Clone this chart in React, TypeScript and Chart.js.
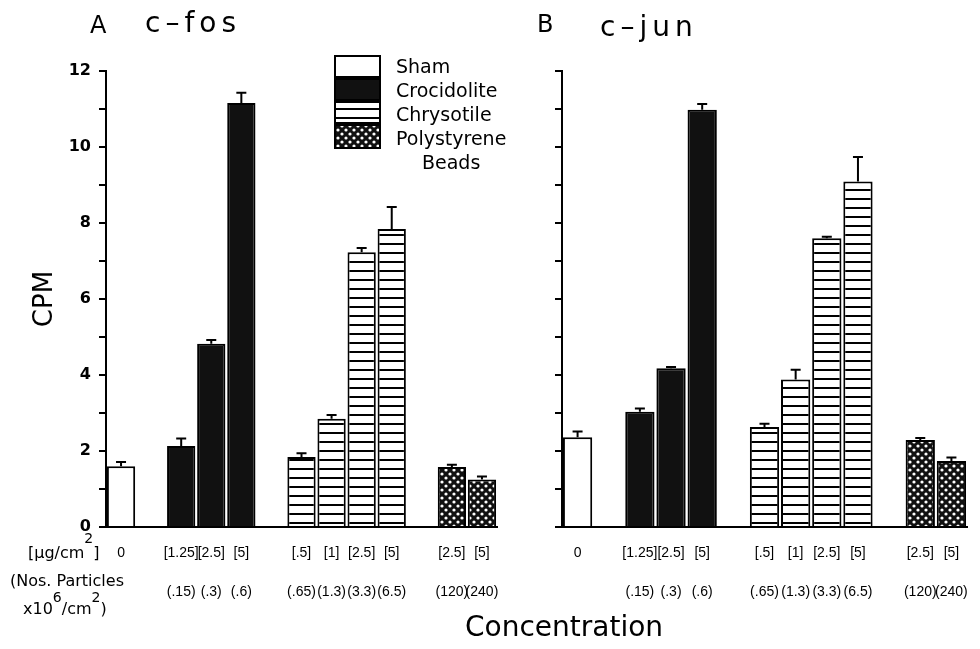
import React, { useEffect, useRef } from "react";
import { Chart, registerables } from "chart.js";

Chart.register(...registerables);

// ---------- data ----------
const materials = ["Sham", "Crocidolite", "Chrysotile", "Polystyrene Beads"];
const slotMaterial = [
  "Sham", "",
  "Crocidolite", "Crocidolite", "Crocidolite", "",
  "Chrysotile", "Chrysotile", "Chrysotile", "Chrysotile", "",
  "Polystyrene Beads", "Polystyrene Beads",
];
const doseLabels = ["0", "", "[1.25]", "[2.5]", "[5]", "", "[.5]", "[1]", "[2.5]", "[5]", "", "[2.5]", "[5]"];
const particleLabels = ["", "", "(.15)", "(.3)", "(.6)", "", "(.65)", "(1.3)", "(3.3)", "(6.5)", "", "(120)", "(240)"];

const cfosCPM = [1.6, null, 2.13, 4.82, 11.16, null, 1.84, 2.85, 7.23, 7.84, null, 1.58, 1.25];
const cfosSEM = [0.11, null, 0.2, 0.1, 0.27, null, 0.1, 0.1, 0.11, 0.58, null, 0.06, 0.08];
const cjunCPM = [2.36, null, 3.03, 4.18, 10.98, null, 2.63, 3.88, 7.6, 9.09, null, 2.29, 1.74];
const cjunSEM = [0.15, null, 0.09, 0.03, 0.15, null, 0.09, 0.26, 0.04, 0.65, null, 0.05, 0.09];

const yMin = 0;
const yMax = 12;
const yStep = 1;
const yLabelEvery = 2;

// ---------- patterns ----------
function makeStripe(): CanvasPattern | string {
  const c = document.createElement("canvas");
  c.width = 8;
  c.height = 9;
  const g = c.getContext("2d");
  if (!g) return "#fff";
  g.fillStyle = "#fff";
  g.fillRect(0, 0, 8, 9);
  g.fillStyle = "#000";
  g.fillRect(0, 0, 8, 2);
  return g.createPattern(c, "repeat") || "#fff";
}

function makeDots(): CanvasPattern | string {
  const c = document.createElement("canvas");
  c.width = 8;
  c.height = 8;
  const g = c.getContext("2d");
  if (!g) return "#000";
  g.fillStyle = "#111";
  g.fillRect(0, 0, 8, 8);
  g.fillStyle = "#fff";
  g.beginPath();
  g.arc(2, 2, 1.6, 0, Math.PI * 2);
  g.fill();
  g.beginPath();
  g.arc(6, 6, 1.6, 0, Math.PI * 2);
  g.fill();
  return g.createPattern(c, "repeat") || "#000";
}

function buildChart(
  canvas: HTMLCanvasElement,
  values: (number | null)[],
  errors: (number | null)[],
  cfg: { showLabels: boolean; yWidth: number; padRight: number; legend: boolean }
) {
  const fills: Record<string, any> = {
    Sham: "#fff",
    Crocidolite: "#111",
    Chrysotile: makeStripe(),
    "Polystyrene Beads": makeDots(),
  };

  const errorBars = {
    id: "errorBars",
    afterDatasetsDraw(chart: any) {
      const { ctx, scales } = chart;
      const xs = scales.x;
      const ys = scales.y;
      ctx.save();
      ctx.strokeStyle = "#000";
      ctx.lineWidth = 2;
      values.forEach((v, i) => {
        const e = errors[i];
        if (v == null || e == null) return;
        const x = xs.getPixelForValue(i);
        const y0 = ys.getPixelForValue(v);
        const y1 = ys.getPixelForValue(v + e);
        ctx.beginPath();
        ctx.moveTo(x, y0);
        ctx.lineTo(x, y1);
        ctx.moveTo(x - 5, y1);
        ctx.lineTo(x + 5, y1);
        ctx.stroke();
      });
      ctx.restore();
    },
  };

  const legendPlugin = {
    id: "customLegend",
    afterDraw(chart: any) {
      if (!cfg.legend) return;
      const ctx = chart.ctx;
      ctx.save();
      const bx = 335;
      const bw = 45;
      const by = 56;
      const pitch = 23;
      ctx.font = "19px 'DejaVu Sans'";
      ctx.textBaseline = "alphabetic";
      materials.forEach((m, k) => {
        const y = by + k * pitch;
        const h = k === materials.length - 1 ? 23 : 21;
        ctx.fillStyle = fills[m];
        ctx.fillRect(bx, y, bw, h);
        ctx.strokeStyle = "#000";
        ctx.lineWidth = 2;
        ctx.strokeRect(bx, y, bw, h);
        ctx.fillStyle = "#000";
        const parts = m.split(" ");
        ctx.textAlign = "left";
        ctx.fillText(parts[0], 396, 73 + k * 24);
        if (parts.length > 1) {
          const center = 396 + ctx.measureText(parts[0]).width / 2;
          ctx.textAlign = "center";
          ctx.fillText(parts.slice(1).join(" "), center, 73 + (k + 1) * 24);
        }
      });
      ctx.restore();
    },
  };

  return new Chart(canvas, {
    type: "bar",
    data: {
      labels: doseLabels.map((d, i) => [d, "", particleLabels[i]]),
      datasets: materials.map((m) => ({
        label: m,
        data: values.map((v, i) => (slotMaterial[i] === m ? v : null)),
        backgroundColor: fills[m],
        borderColor: "#000",
        borderWidth: 2,
        borderSkipped: "start",
        grouped: false,
        barPercentage: 0.94,
        categoryPercentage: 1,
      })) as any,
    },
    options: {
      responsive: false,
      animation: false,
      layout: { padding: { left: 0, top: 71, right: cfg.padRight, bottom: 0 } },
      plugins: {
        legend: { display: false },
        tooltip: { enabled: false },
        title: { display: false },
      },
      scales: {
        x: {
          type: "category",
          offset: true,
          grid: { display: true, drawOnChartArea: false, drawTicks: false },
          border: { display: true, color: "#000", width: 2 },
          ticks: {
            color: "#000",
            font: { family: "'Liberation Sans'", size: 14, lineHeight: 1.4 },
            padding: 16,
            maxRotation: 0,
            minRotation: 0,
            autoSkip: false,
          },
          afterFit: (s: any) => {
            s.height = 122;
          },
        },
        y: {
          min: yMin,
          max: yMax,
          ticks: {
            stepSize: yStep,
            color: "#000",
            font: { family: "'DejaVu Sans'", size: 16, weight: "bold" },
            padding: 8,
            callback: (v: any) => (cfg.showLabels && Number(v) % yLabelEvery === 0 ? String(v) : ""),
          },
          grid: { display: true, drawOnChartArea: false, drawTicks: true, tickLength: 7, color: "#000", lineWidth: 2 },
          border: { display: true, color: "#000", width: 2 },
          title: {
            display: cfg.showLabels,
            text: "CPM",
            color: "#000",
            font: { family: "'DejaVu Sans'", size: 26 },
            padding: { top: 30, bottom: 0 },
          },
          afterFit: (s: any) => {
            s.width = cfg.yWidth;
          },
        },
      },
    } as any,
    plugins: [errorBars, legendPlugin],
  });
}

const sup = (t: string, raise: number) => (
  <span style={{ fontSize: 14, position: "relative", top: -raise }}>{t}</span>
);

export default function App() {
  const refA = useRef<HTMLCanvasElement | null>(null);
  const refB = useRef<HTMLCanvasElement | null>(null);

  useEffect(() => {
    if (!refA.current || !refB.current) return;
    const a = buildChart(refA.current, cfosCPM, cfosSEM, { showLabels: true, yWidth: 106, padRight: 23, legend: true });
    const b = buildChart(refB.current, cjunCPM, cjunSEM, { showLabels: false, yWidth: 42, padRight: 33, legend: false });
    return () => {
      a.destroy();
      b.destroy();
    };
  }, []);

  const txt: React.CSSProperties = {
    position: "absolute",
    fontFamily: "'DejaVu Sans'",
    lineHeight: 1,
    whiteSpace: "nowrap",
    color: "#000",
  };

  return (
    <div style={{ position: "fixed", left: 0, top: 0, width: 980, height: 649, background: "#fff", overflow: "hidden" }}>
      <canvas ref={refA} width={520} height={649} style={{ position: "absolute", left: 0, top: 0 }} />
      <canvas ref={refB} width={480} height={649} style={{ position: "absolute", left: 520, top: 0 }} />

      <div style={{ ...txt, left: 90, top: 13, fontSize: 24 }}>A</div>
      <div style={{ ...txt, left: 145, top: 9, fontSize: 28, letterSpacing: 5 }}>c–fos</div>
      <div style={{ ...txt, left: 537, top: 12, fontSize: 24 }}>B</div>
      <div style={{ ...txt, left: 600, top: 13, fontSize: 28, letterSpacing: 5 }}>c–jun</div>

      <div style={{ ...txt, left: 28, top: 545, fontSize: 16 }}>
        [μg/cm{sup("2", 15)}]
      </div>
      <div style={{ ...txt, left: 10, top: 573, fontSize: 16 }}>(Nos. Particles</div>
      <div style={{ ...txt, left: 23, top: 601, fontSize: 16 }}>
        x10{sup("6", 12)}/cm{sup("2", 12)})
      </div>

      <div style={{ ...txt, left: 465, top: 613, fontSize: 28 }}>Concentration</div>
    </div>
  );
}
